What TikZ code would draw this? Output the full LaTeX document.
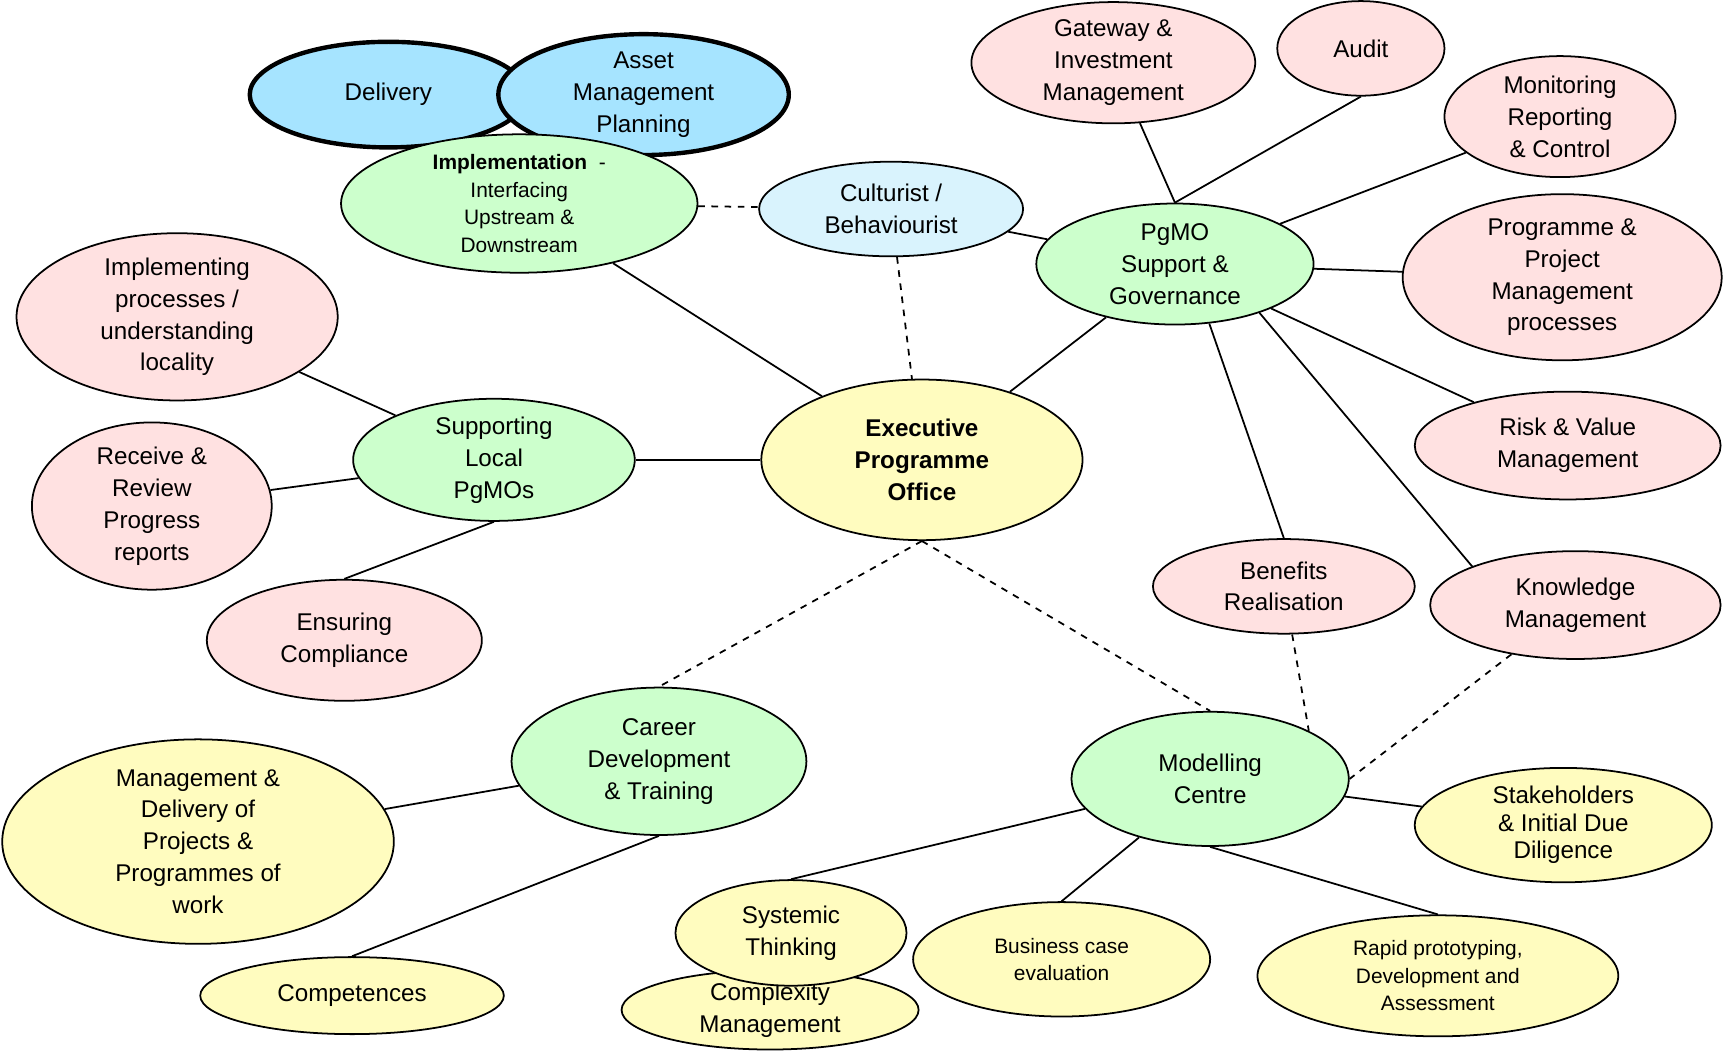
\documentclass[tikz,border=0pt]{standalone}
\usepackage{fontspec}
\setmainfont{Liberation Sans}
\usetikzlibrary{shapes.geometric,backgrounds}
\begin{document}
\begin{tikzpicture}[x=0.5pt,y=-0.5pt,
 el/.style={ellipse,draw,thick,align=center,inner sep=0pt,font=\fontsize{11}{14.5}\selectfont},
 pink/.style={el,fill=red!6!pink!40},
 grn/.style={el,fill=green!20},
 yel/.style={el,fill=yellow!25},
 blu/.style={el,fill=blue!30!cyan!35!white,line width=2pt},
 cya/.style={el,fill=cyan!15},
 sm/.style={font=\fontsize{9.5}{12.5}\selectfont},
 ln/.style={thick},
 dl/.style={thick,dashed}]
\useasboundingbox (0,0) rectangle (1568,962);
\def\sz#1#2{minimum width=#1*0.5pt,minimum height=#2*0.5pt}
\node[blu,minimum width=126pt,minimum height=48pt] (del) at (353,86) {Delivery};
\node[blu,minimum width=132pt,minimum height=48pt] (amp) at (585,86) {Asset\\Management\\Planning};
\node[grn,sm,minimum width=162pt,minimum height=61pt] (imp) at (472,185) {\textbf{Implementation} ~-\\Interfacing\\Upstream \&\\Downstream};
\node[cya,minimum width=120pt,minimum height=43pt] (cul) at (810,190) {Culturist /\\Behaviourist};
\node[grn,minimum width=126pt,minimum height=55pt] (pg) at (1068,240) {PgMO\\Support \&\\Governance};
\node[pink,minimum width=129pt,minimum height=54pt] (gate) at (1012,57) {Gateway \&\\Investment\\Management};
\node[pink,minimum width=76pt,minimum height=43pt] (aud) at (1237,44) {Audit};
\node[pink,minimum width=105pt,minimum height=55pt] (mon) at (1418,106) {Monitoring\\Reporting\\\& Control};
\node[pink,minimum width=145pt,minimum height=68pt] (ppm) at (1420,252) {Programme \&\\Project\\Management\\processes};
\node[pink,minimum width=139pt,minimum height=49pt] (risk) at (1425,405) {Risk \& Value\\Management};
\node[pink,minimum width=132pt,minimum height=49pt] (know) at (1432,550) {Knowledge\\Management};
\node[pink,minimum width=119pt,minimum height=43pt] (ben) at (1167,533) {Benefits\\Realisation};
\node[yel,minimum width=146pt,minimum height=73pt] (exe) at (838,418) {\textbf{Executive}\\\textbf{Programme}\\\textbf{Office}};
\node[pink,minimum width=146pt,minimum height=68pt] (ipl) at (161,288) {Implementing\\processes /\\understanding\\locality};
\node[grn,minimum width=128pt,minimum height=54pt] (sup) at (449,418) {Supporting\\Local\\PgMOs};
\node[pink,minimum width=109pt,minimum height=66pt] (rec) at (138,460) {Receive \&\\Review\\Progress\\reports};
\node[pink,minimum width=125pt,minimum height=55pt] (ens) at (313,582) {Ensuring\\Compliance};
\node[grn,minimum width=134pt,minimum height=67pt] (car) at (599,692) {Career\\Development\\\& Training};
\node[yel,minimum width=178pt,minimum height=79pt] (mgd) at (180,765) {Management \&\\Delivery of\\Projects \&\\Programmes of\\work};
\node[yel,minimum width=138pt,minimum height=35pt] (com) at (320,905) {Competences};
\node[grn,minimum width=126pt,minimum height=61pt] (mod) at (1100,708) {Modelling\\Centre};
\node[yel,sm,minimum width=135pt,minimum height=52pt] (stk) at (1421,750) {\fontsize{11}{13.5}\selectfont Stakeholders\\\fontsize{11}{13.5}\selectfont\& Initial Due\\\fontsize{11}{13.5}\selectfont Diligence};
\node[yel,minimum width=135pt,minimum height=36pt] (cpx) at (700,918) {Complexity\\Management};
\node[yel,minimum width=105pt,minimum height=48pt] (sys) at (719,848) {Systemic\\Thinking};
\node[yel,sm,minimum width=135pt,minimum height=52pt] (bus) at (965,872) {Business case\\evaluation};
\node[yel,sm,minimum width=164pt,minimum height=55pt] (rap) at (1307,887) {Rapid prototyping,\\Development and\\Assessment};
\begin{scope}[on background layer]
\draw[ln] (imp) -- (exe); \draw[ln] (pg) -- (exe); \draw[ln] (sup) -- (exe);
\draw[ln] (cul) -- (pg);
\draw[ln] (gate) -- (pg.north); \draw[ln] (aud.south) -- (pg.north);
\draw[ln] (mon) -- (pg); \draw[ln] (ppm) -- (pg); \draw[ln] (risk) -- (pg);
\draw[ln] (pg.-30) -- (know.north west); \draw[ln] (pg.-60) -- (ben.north);
\draw[ln] (sup) -- (ipl); \draw[ln] (sup) -- (rec); \draw[ln] (sup.south) -- (ens.north);
\draw[ln] (car) -- (mgd); \draw[ln] (car.south) -- (com.north);
\draw[ln] (mod) -- (sys.north); \draw[ln] (mod) -- (bus.north); \draw[ln] (mod.south) -- (rap.north); \draw[ln] (mod) -- (stk);
\draw[dl] (imp) -- (cul); \draw[dl] (cul) -- (exe);
\draw[dl] (exe.south) -- (car.north); \draw[dl] (exe.south) -- (mod.north);
\draw[dl] (ben) -- (mod.north east); \draw[dl] (know) -- (mod.east);
\end{scope}
\end{tikzpicture}
\end{document}
